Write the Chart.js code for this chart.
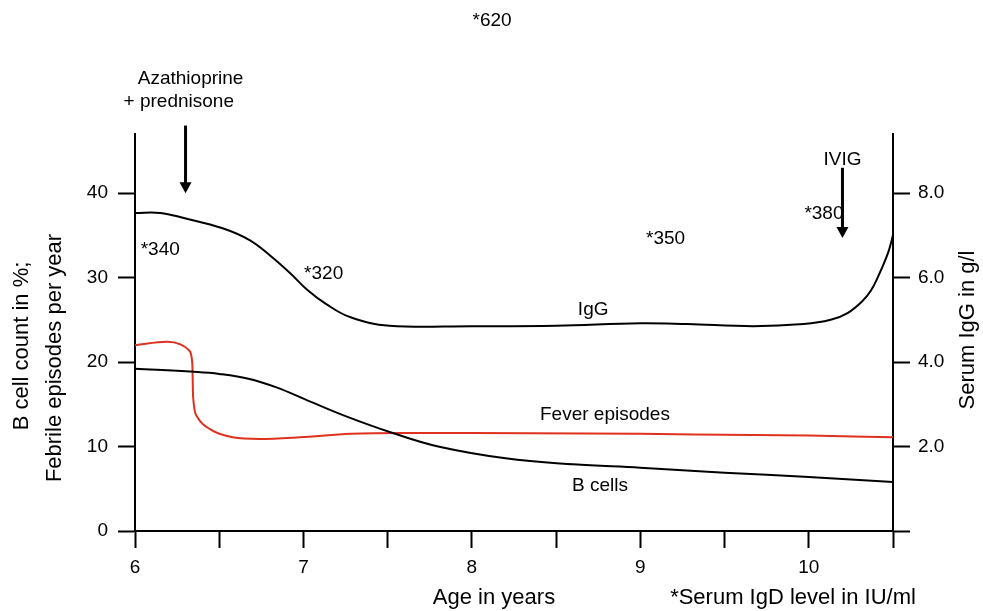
<!DOCTYPE html>
<html>
<head>
<meta charset="utf-8">
<script src="https://cdn.jsdelivr.net/npm/chart.js@4"></script>
<style>
  body { margin: 0; background: #fff; }
  #wrap { width: 983px; height: 611px; }
</style>
</head>
<body>
<div id="wrap"><canvas id="chart" width="983" height="611"></canvas></div>
<script>
// ages (x) and values
const igGAge = [6.0, 6.15, 6.29, 6.52, 6.68, 6.8, 6.92, 7.02, 7.14, 7.28, 7.51, 8.0, 8.5, 9.0, 9.28, 9.67, 9.97, 10.13, 10.23, 10.32, 10.37, 10.41, 10.47, 10.5];
const igG    = [7.53, 7.53, 7.41, 7.17, 6.89, 6.53, 6.11, 5.72, 5.36, 5.06, 4.86, 4.85, 4.86, 4.92, 4.90, 4.85, 4.90, 5.0, 5.16, 5.45, 5.7, 6.01, 6.58, 7.0];

const bCellAge = [6.0, 6.35, 6.5, 6.68, 6.84, 7.02, 7.25, 7.53, 7.8, 8.2, 8.6, 9.0, 9.5, 10.0, 10.5];
const bCells   = [19.2, 18.85, 18.6, 18.0, 17.0, 15.5, 13.6, 11.6, 10.0, 8.6, 7.9, 7.5, 6.9, 6.4, 5.8];

const feverAge = [6.0, 6.19, 6.27, 6.32, 6.34, 6.345, 6.37, 6.45, 6.58, 6.74, 6.98, 7.28, 7.6, 8.0, 9.0, 9.5, 10.0, 10.5];
const fever    = [22.0, 22.4, 22.1, 21.4, 19.9, 15.9, 13.5, 12.0, 11.1, 10.9, 11.1, 11.5, 11.6, 11.6, 11.5, 11.4, 11.3, 11.1];

// tick positions
const xTicks = [6, 6.5, 7, 7.5, 8, 8.5, 9, 9.5, 10, 10.5];
const leftTicks = [0, 10, 20, 30, 40];
const rightTicks = [0, 2, 4, 6, 8];

// labels placed in data units (age, left axis)
const notes = [
    { text: '*620', x: 8.12, y: 60.4 },
    { text: 'Azathioprine', x: 6.33, y: 53.5 },
    { text: '+ prednisone', x: 6.26, y: 50.8 },
    { text: '*340', x: 6.15, y: 33.3 },
    { text: '*320', x: 7.12, y: 30.4 },
    { text: '*350', x: 9.15, y: 34.6 },
    { text: '*380', x: 10.09, y: 37.5 },
    { text: 'IVIG', x: 10.2, y: 43.9 },
    { text: 'IgG', x: 8.72, y: 26.2 },
    { text: 'Fever episodes', x: 8.79, y: 13.8 },
    { text: 'B cells', x: 8.76, y: 5.3 }
];
const arrows = [
    { x: 6.30, from: 48.0, to: 40.0 },
    { x: 10.2, from: 43.0, to: 34.7 }
];

const FONT = '"Liberation Sans", Arial, Helvetica, sans-serif';

const toPoints = (xs, ys) => xs.map((x, i) => ({ x: x, y: ys[i] }));

const extras = {
    id: 'extras',
    afterDraw(chart) {
        const ctx = chart.ctx;
        const sx = chart.scales.x, sy = chart.scales.y;
        ctx.save();
        ctx.fillStyle = '#000';
        ctx.strokeStyle = '#000';
        ctx.textAlign = 'center';
        ctx.textBaseline = 'middle';
        ctx.font = '19px ' + FONT;
        notes.forEach(n => {
            ctx.fillText(n.text, sx.getPixelForValue(n.x), sy.getPixelForValue(n.y));
        });

        // arrows
        arrows.forEach(a => {
            const px = sx.getPixelForValue(a.x);
            const y0 = sy.getPixelForValue(a.from);
            const y1 = sy.getPixelForValue(a.to);
            ctx.lineWidth = 3;
            ctx.beginPath();
            ctx.moveTo(px, y0);
            ctx.lineTo(px, y1 - 10);
            ctx.stroke();
            ctx.beginPath();
            ctx.moveTo(px - 6, y1 - 11);
            ctx.lineTo(px + 6, y1 - 11);
            ctx.lineTo(px, y1);
            ctx.closePath();
            ctx.fill();
        });

        // axis titles
        ctx.font = '22px ' + FONT;
        ctx.fillText('Age in years', 494, 598);
        ctx.fillText('*Serum IgD level in IU/ml', 793, 598);

        ctx.save();
        ctx.translate(22, 346);
        ctx.rotate(-Math.PI / 2);
        ctx.fillText('B cell count in %;', 0, 0);
        ctx.restore();

        ctx.save();
        ctx.translate(55, 358);
        ctx.rotate(-Math.PI / 2);
        ctx.fillText('Febrile episodes per year', 0, 0);
        ctx.restore();

        ctx.save();
        ctx.translate(968, 330);
        ctx.rotate(-Math.PI / 2);
        ctx.fillText('Serum IgG in g/l', 0, 0);
        ctx.restore();

        ctx.restore();
    }
};

const axisBase = {
    border: { display: true, color: '#000', width: 2 },
    grid: { drawOnChartArea: false, drawTicks: true, tickLength: 17, color: '#000', tickWidth: 2 },
    ticks: { color: '#000', font: { family: FONT, size: 19 } }
};

new Chart(document.getElementById('chart'), {
    type: 'line',
    data: {
        datasets: [
            {
                label: 'IgG',
                data: toPoints(igGAge, igG),
                yAxisID: 'y1',
                borderColor: '#000',
                borderWidth: 2,
                pointRadius: 0,
                tension: 0.4
            },
            {
                label: 'B cells',
                data: toPoints(bCellAge, bCells),
                yAxisID: 'y',
                borderColor: '#000',
                borderWidth: 2,
                pointRadius: 0,
                tension: 0.4
            },
            {
                label: 'Fever episodes',
                data: toPoints(feverAge, fever),
                yAxisID: 'y',
                borderColor: '#e0301e',
                borderWidth: 2,
                pointRadius: 0,
                cubicInterpolationMode: 'monotone'
            }
        ]
    },
    options: {
        responsive: false,
        animation: false,
        devicePixelRatio: 1,
        layout: { padding: { top: 134, left: 0, right: 0, bottom: 0 } },
        plugins: {
            legend: { display: false },
            tooltip: { enabled: false }
        },
        scales: {
            x: {
                type: 'linear',
                position: 'bottom',
                min: 6,
                max: 10.5,
                border: axisBase.border,
                grid: axisBase.grid,
                ticks: {
                    ...axisBase.ticks,
                    padding: 8,
                    maxRotation: 0,
                    autoSkip: false,
                    callback: v => Number.isInteger(v) ? String(v) : ''
                },
                afterBuildTicks: axis => { axis.ticks = xTicks.map(v => ({ value: v })); },
                afterFit: axis => { axis.height = 80; }
            },
            y: {
                type: 'linear',
                position: 'left',
                min: 0,
                max: 47,
                border: axisBase.border,
                grid: axisBase.grid,
                ticks: { ...axisBase.ticks, padding: 10 },
                afterBuildTicks: axis => { axis.ticks = leftTicks.map(v => ({ value: v })); },
                afterFit: axis => { axis.width = 135; }
            },
            y1: {
                type: 'linear',
                position: 'right',
                min: 0,
                max: 9.4,
                border: axisBase.border,
                grid: axisBase.grid,
                ticks: {
                    ...axisBase.ticks,
                    padding: 8,
                    callback: v => v === 0 ? '' : v.toFixed(1)
                },
                afterBuildTicks: axis => { axis.ticks = rightTicks.map(v => ({ value: v })); },
                afterFit: axis => { axis.width = 90; }
            }
        }
    },
    plugins: [extras]
});
</script>
</body>
</html>
